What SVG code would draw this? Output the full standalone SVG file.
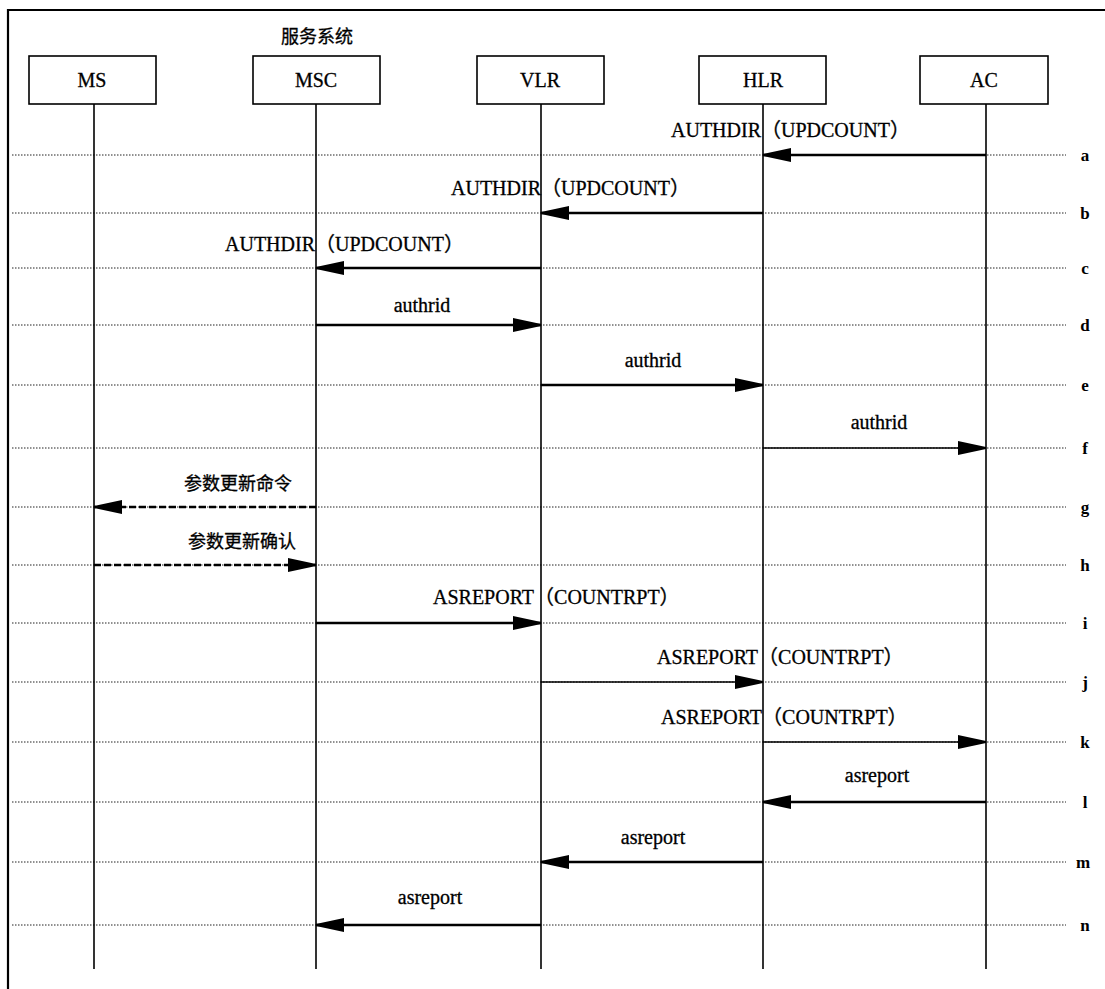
<svg xmlns="http://www.w3.org/2000/svg" width="1105" height="989" viewBox="0 0 1105 989">
<style>
.frame{fill:none;stroke:#000;stroke-width:2.2}
.box{fill:#fff;stroke:#000;stroke-width:1.6}
.life{stroke:#000;stroke-width:1.6}
.dot{stroke:#222;stroke-width:1;stroke-dasharray:1.5,1.5}
.msg{stroke:#000;stroke-width:2.5;fill:none}
.thin{stroke-width:1.6}
.dash{stroke-dasharray:7,3}
.t{font-family:"Liberation Serif","Noto Sans CJK SC",serif;font-size:20px;fill:#000;stroke:#000;stroke-width:0.3}
.cjk{font-family:"Noto Sans CJK SC",sans-serif;font-size:18px;fill:#000;stroke:#000;stroke-width:0.3}
.lbl{font-family:"Liberation Serif",serif;font-size:17px;font-weight:bold;fill:#000}
.mid{text-anchor:middle}
</style>
<defs>
<marker id="ah" markerUnits="userSpaceOnUse" markerWidth="28" markerHeight="14" refX="28" refY="7" orient="auto">
<path d="M0,0 L28,6 L28,8 L0,14 Z" fill="#000"/>
</marker>
</defs>
<rect width="1105" height="989" fill="#fff"/>
<path class="frame" d="M8,989 V10 H1105"/>
<text class="cjk mid" x="317" y="43">服务系统</text>

<g id="guides">
<line class="dot" x1="12" y1="155" x2="1066" y2="155"/>
<line class="dot" x1="12" y1="213" x2="1066" y2="213"/>
<line class="dot" x1="12" y1="268" x2="1066" y2="268"/>
<line class="dot" x1="12" y1="325" x2="1066" y2="325"/>
<line class="dot" x1="12" y1="385" x2="1066" y2="385"/>
<line class="dot" x1="12" y1="448" x2="1066" y2="448"/>
<line class="dot" x1="12" y1="507" x2="1066" y2="507"/>
<line class="dot" x1="12" y1="565" x2="1066" y2="565"/>
<line class="dot" x1="12" y1="623" x2="1066" y2="623"/>
<line class="dot" x1="12" y1="682" x2="1066" y2="682"/>
<line class="dot" x1="12" y1="742" x2="1066" y2="742"/>
<line class="dot" x1="12" y1="802" x2="1066" y2="802"/>
<line class="dot" x1="12" y1="862" x2="1066" y2="862"/>
<line class="dot" x1="12" y1="925" x2="1066" y2="925"/>
<text class="lbl mid" x="1085" y="161">a</text>
<text class="lbl mid" x="1085" y="219">b</text>
<text class="lbl mid" x="1085" y="274">c</text>
<text class="lbl mid" x="1085" y="331">d</text>
<text class="lbl mid" x="1085" y="391">e</text>
<text class="lbl mid" x="1085" y="454">f</text>
<text class="lbl mid" x="1085" y="513">g</text>
<text class="lbl mid" x="1085" y="571">h</text>
<text class="lbl mid" x="1085" y="629">i</text>
<text class="lbl mid" x="1085" y="688">j</text>
<text class="lbl mid" x="1085" y="748">k</text>
<text class="lbl mid" x="1085" y="808">l</text>
<text class="lbl mid" x="1083" y="868">m</text>
<text class="lbl mid" x="1085" y="931">n</text>
</g>

<g id="MS">
<rect class="box" x="29" y="56" width="127" height="48"/>
<text class="t mid" x="92" y="87">MS</text>
<line class="life" x1="94" y1="104" x2="94" y2="969"/>
</g>
<g id="MSC">
<rect class="box" x="253" y="56" width="127" height="48"/>
<text class="t mid" x="316" y="87">MSC</text>
<line class="life" x1="316" y1="104" x2="316" y2="969"/>
</g>
<g id="VLR">
<rect class="box" x="477" y="56" width="127" height="48"/>
<text class="t mid" x="540" y="87">VLR</text>
<line class="life" x1="541" y1="104" x2="541" y2="969"/>
</g>
<g id="HLR">
<rect class="box" x="699" y="56" width="127" height="48"/>
<text class="t mid" x="763" y="87">HLR</text>
<line class="life" x1="763" y1="104" x2="763" y2="969"/>
</g>
<g id="AC">
<rect class="box" x="920" y="56" width="128" height="48"/>
<text class="t mid" x="984" y="87">AC</text>
<line class="life" x1="986" y1="104" x2="986" y2="969"/>
</g>

<g id="connectors">
<line class="msg" x1="986" y1="155" x2="763" y2="155" marker-end="url(#ah)"/>
<text class="t" x="671" y="137">AUTHDIR（UPDCOUNT）</text>
<line class="msg" x1="763" y1="213" x2="541" y2="213" marker-end="url(#ah)"/>
<text class="t" x="451" y="195">AUTHDIR（UPDCOUNT）</text>
<line class="msg" x1="541" y1="268" x2="316" y2="268" marker-end="url(#ah)"/>
<text class="t" x="225" y="251">AUTHDIR（UPDCOUNT）</text>
<line class="msg" x1="316" y1="325" x2="541" y2="325" marker-end="url(#ah)"/>
<text class="t mid" x="422" y="312">authrid</text>
<line class="msg" x1="541" y1="385" x2="763" y2="385" marker-end="url(#ah)"/>
<text class="t mid" x="653" y="367">authrid</text>
<line class="msg thin" x1="763" y1="448" x2="986" y2="448" marker-end="url(#ah)"/>
<text class="t mid" x="879" y="429">authrid</text>
<line class="msg dash" x1="316" y1="507" x2="94" y2="507" marker-end="url(#ah)"/>
<text class="cjk" x="184" y="490">参数更新命令</text>
<line class="msg dash" x1="94" y1="565" x2="316" y2="565" marker-end="url(#ah)"/>
<text class="cjk" x="188" y="548">参数更新确认</text>
<line class="msg" x1="316" y1="623" x2="541" y2="623" marker-end="url(#ah)"/>
<text class="t" x="433" y="604">ASREPORT（COUNTRPT）</text>
<line class="msg thin" x1="541" y1="682" x2="763" y2="682" marker-end="url(#ah)"/>
<text class="t" x="657" y="664">ASREPORT（COUNTRPT）</text>
<line class="msg thin" x1="763" y1="742" x2="986" y2="742" marker-end="url(#ah)"/>
<text class="t" x="661" y="724">ASREPORT（COUNTRPT）</text>
<line class="msg" x1="986" y1="802" x2="763" y2="802" marker-end="url(#ah)"/>
<text class="t mid" x="877" y="782">asreport</text>
<line class="msg" x1="763" y1="862" x2="541" y2="862" marker-end="url(#ah)"/>
<text class="t mid" x="653" y="844">asreport</text>
<line class="msg" x1="541" y1="925" x2="316" y2="925" marker-end="url(#ah)"/>
<text class="t mid" x="430" y="904">asreport</text>
</g>
</svg>
